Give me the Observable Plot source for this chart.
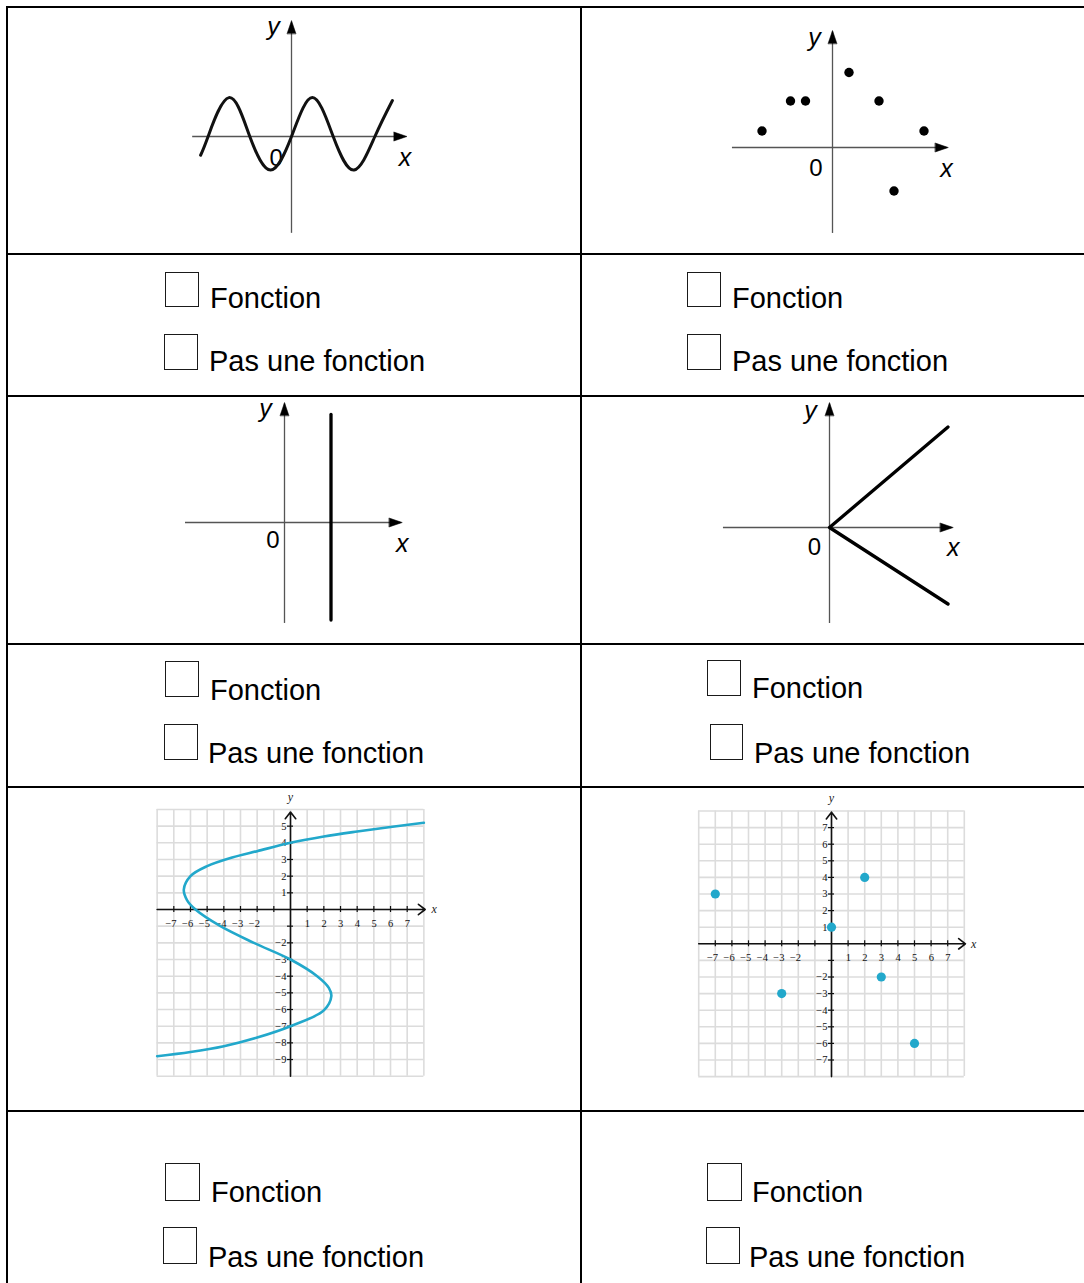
<!DOCTYPE html>
<html>
<head>
<meta charset="utf-8">
<script src="https://cdn.jsdelivr.net/npm/d3@7"></script>
<script src="https://cdn.jsdelivr.net/npm/@observablehq/plot@0.6"></script>
<style>
html, body { margin: 0; padding: 0; background: #fff; }
#page { position: relative; width: 1084px; height: 1283px; overflow: hidden; background: #fff;
        font-family: "Liberation Sans", Arial, sans-serif; }
.hl { position: absolute; height: 2px; background: #000; }
.vl { position: absolute; width: 2px; background: #000; }
.box { position: absolute; box-sizing: border-box; border: 1.6px solid #1a1a1a; }
.lbl { position: absolute; font-size: 29px; line-height: 29px; white-space: nowrap; color: #000; }
#page svg { position: absolute; }
</style>
</head>
<body>
<div id="page"></div>
<script>
// ================= DATA =================
// Graph A : sinusoid (x in half-periods, y in amplitudes)
const sineX = [-2.18, -2, -1.5, -1, -0.5, 0, 0.5, 1, 1.5, 2, 2.42];
const sineY = [-0.52, 0, 1.08, 0, -0.93, 0, 1.08, 0, -0.93, 0, 1.0];

// Graph B : scattered points
const dotsBX = [-4.7, -2.8, -1.8, 1.1, 3.1, 6.1, 4.1];
const dotsBY = [1.1, 3.1, 3.1, 5.0, 3.1, 1.1, -2.9];

// Graph C : vertical segment
const vlineX = [3.1, 3.1];
const vlineY = [-6.5, 7.2];

// Graph D : V shape (two rays from the origin)
const vShapeX = [7.9, 0, 7.9];
const vShapeY = [6.7, 0, -5.1];

// Graph E : sideways S curve on a grid
const sCurveX = [8, 6, 4, 2, 0, -2, -3.5, -5, -6, -6.4, -6.2, -5.7, -4.2, -2.2, 0, 1.6, 2.3, 2.45, 2.0, 0, -2, -4, -6, -8];
const sCurveY = [5.2, 4.95, 4.68, 4.38, 4.0, 3.5, 3.12, 2.6, 2.0, 1.2, 0.55, 0.0, -1.0, -2.0, -3.0, -4.0, -4.7, -5.2, -6.05, -7.0, -7.68, -8.2, -8.55, -8.8];

// Graph F : points on a grid
const dotsFX = [-7, -3, 0, 2, 3, 5];
const dotsFY = [3, -3, 1, 4, -2, -6];

// Tick labels of the grid graphs
const gridXTickLabels = [-7, -6, -5, -4, -3, -2, 1, 2, 3, 4, 5, 6, 7];
const gridEYTickLabels = [5, 4, 3, 2, 1, -2, -3, -4, -5, -6, -7, -8, -9];
const gridFYTickLabels = [7, 6, 5, 4, 3, 2, 1, -2, -3, -4, -5, -6, -7];
const gridETicksX = [-7, -6, -5, -4, -3, -2, -1, 1, 2, 3, 4, 5, 6, 7];
const gridETicksY = [-9, -8, -7, -6, -5, -4, -3, -2, -1, 1, 2, 3, 4, 5];
const gridFTicksX = [-7, -6, -5, -4, -3, -2, -1, 1, 2, 3, 4, 5, 6, 7];
const gridFTicksY = [-7, -6, -5, -4, -3, -2, -1, 1, 2, 3, 4, 5, 6, 7];
const gridELinesX = [-8, -7, -6, -5, -4, -3, -2, -1, 0, 1, 2, 3, 4, 5, 6, 7, 8];
const gridELinesY = [-10, -9, -8, -7, -6, -5, -4, -3, -2, -1, 0, 1, 2, 3, 4, 5, 6];
const gridFLinesX = [-8, -7, -6, -5, -4, -3, -2, -1, 0, 1, 2, 3, 4, 5, 6, 7, 8];
const gridFLinesY = [-8, -7, -6, -5, -4, -3, -2, -1, 0, 1, 2, 3, 4, 5, 6, 7, 8];

// Axis extents [x from, x to (tip), y from, y to (tip)]
const axesA = [-2.37, 2.77, -2.69, 3.22];
const axesB = [-6.67, 7.72, -5.73, 7.8];
const axesC = [-6.6, 7.85, -6.73, 8.0];
const axesD = [-7.07, 8.25, -6.4, 8.33];
const axesE = [-8, 8.08, -10, 5.85];
const axesF = [-8, 8.07, -8, 7.93];

// Axis name labels [text, x, y]
const labelsA = [["y", -0.43, 2.81], ["0", -0.37, -0.81], ["x", 2.72, -0.81]];
const labelsB = [["y", -1.2, 6.8], ["0", -1.1, -1.93], ["x", 7.6, -1.98]];
const labelsC = [["y", -1.27, 7.02], ["0", -0.77, -1.73], ["x", 7.85, -1.98]];
const labelsD = [["y", -1.27, 7.25], ["0", -1.0, -1.82], ["x", 8.25, -1.87]];

const choiceLabels = ["Fonction", "Pas une fonction"];

// ================= LAYOUT =================
const page = document.getElementById("page");
const zip = (xs, ys) => xs.map((x, i) => ({x, y: ys[i]}));
const fmt = d => (d < 0 ? "\u2212" + (-d) : String(d));

// table lines
[[6, 7], [253, 7], [395, 7], [643, 7], [786, 7], [1110, 7]].forEach(([t, l]) => {
  const d = document.createElement("div"); d.className = "hl";
  d.style.top = t + "px"; d.style.left = l - 1 + "px"; d.style.width = (1084 - l + 1) + "px";
  page.appendChild(d);
});
[6, 580].forEach(l => {
  const d = document.createElement("div"); d.className = "vl";
  d.style.left = l + "px"; d.style.top = "6px"; d.style.height = "1290px";
  page.appendChild(d);
});

// checkboxes
const choices = [
  [[165, 272, 34, 35, 210, 308], [164, 334, 34, 36, 209, 371]],
  [[687, 272, 34, 35, 732, 308], [687, 334, 34, 36, 732, 371]],
  [[165, 661, 34, 36, 210, 700], [164, 724, 34, 36, 208, 763]],
  [[707, 660, 34, 36, 752, 698], [710, 724, 33, 36, 754, 763]],
  [[165, 1163, 35, 38, 211, 1202], [163, 1227, 34, 37, 208, 1267]],
  [[707, 1163, 35, 38, 752, 1202], [706, 1227, 34, 37, 749, 1267]]
];
choices.forEach(pair => pair.forEach(([bl, bt, bw, bh, tl, base], k) => {
  const b = document.createElement("div"); b.className = "box";
  Object.assign(b.style, {left: bl + "px", top: bt + "px", width: bw + "px", height: bh + "px"});
  page.appendChild(b);
  const t = document.createElement("div"); t.className = "lbl";
  t.textContent = choiceLabels[k];
  Object.assign(t.style, {left: tl + "px", top: (base - 24.5) + "px"});
  page.appendChild(t);
}));

// frame helper: svg position in page px, origin in page px, unit size in px
function frame(left, top, w, h, ox, oy, ux, uy) {
  return {
    left, top, width: w, height: h,
    x: {domain: [(left - ox) / ux, (left + w - ox) / ux], axis: null},
    y: {domain: [(oy - top - h) / uy, (oy - top) / uy], axis: null}
  };
}
function place(f, marks) {
  const svg = Plot.plot({
    width: f.width, height: f.height, margin: 0,
    x: f.x, y: f.y,
    style: {background: "transparent", overflow: "visible"},
    marks
  });
  svg.style.left = f.left + "px";
  svg.style.top = f.top + "px";
  svg.style.position = "absolute";
  page.appendChild(svg);
}

// filled arrow head
const headShape = {
  draw(context, l) {
    const w = l * 0.34;
    context.moveTo(-w, 0);
    context.lineTo(0, -l);
    context.lineTo(w, 0);
    context.closePath();
  }
};

function schematicAxes(ax, labels) {
  const sans = "Liberation Sans, Arial, sans-serif";
  return [
    Plot.ruleY([0], {x1: ax[0], x2: ax[1] - 0.1, stroke: "#555", strokeWidth: 1.3}),
    Plot.ruleX([0], {y1: ax[2], y2: ax[3] - 0.1, stroke: "#555", strokeWidth: 1.3}),
    Plot.vector([{x: ax[1], y: 0, r: 90}, {x: 0, y: ax[3], r: 0}],
      {x: "x", y: "y", rotate: "r", length: 13, anchor: "end", shape: headShape,
       fill: "#000", stroke: "#000", strokeWidth: 0.5}),
    Plot.text(labels.filter(d => d[0] !== "0"), {x: d => d[1], y: d => d[2], text: d => d[0],
      textAnchor: "middle", lineAnchor: "bottom", fontSize: 25, fontFamily: sans,
      fontStyle: "italic", fill: "#000"}),
    Plot.text(labels.filter(d => d[0] === "0"), {x: d => d[1], y: d => d[2], text: d => d[0],
      textAnchor: "middle", lineAnchor: "bottom", fontSize: 24, fontFamily: sans, fill: "#000"})
  ];
}

// ---- Graph A
place(frame(180, 10, 235, 230, 291, 136, 41.7, 36), [
  ...schematicAxes(axesA, labelsA),
  Plot.line(zip(sineX, sineY), {x: "x", y: "y", curve: "natural", stroke: "#111", strokeWidth: 3})
]);

// ---- Graph B
place(frame(720, 20, 240, 220, 832, 147, 15, 15), [
  ...schematicAxes(axesB, labelsB),
  Plot.dot(zip(dotsBX, dotsBY), {x: "x", y: "y", r: 4.7, fill: "#000", stroke: "none"})
]);

// ---- Graph C
place(frame(170, 390, 240, 237, 284, 522, 15, 15), [
  ...schematicAxes(axesC, labelsC),
  Plot.line(zip(vlineX, vlineY), {x: "x", y: "y", stroke: "#000", strokeWidth: 3.3})
]);

// ---- Graph D
place(frame(710, 390, 255, 237, 829, 527, 15, 15), [
  ...schematicAxes(axesD, labelsD),
  Plot.line(zip(vShapeX, vShapeY), {x: "x", y: "y", stroke: "#000", strokeWidth: 3.3})
]);

// grid graph helper
function gridMarks(linesX, linesY, ticksX, ticksY, xLabels, yLabels, ax, nameX, nameY) {
  const serif = "Liberation Serif, Times New Roman, serif";
  return [
    Plot.ruleX(linesX, {x: d => d, y1: linesY[0], y2: linesY[linesY.length - 1], stroke: "#dcdcdc", strokeWidth: 1.6}),
    Plot.ruleY(linesY, {y: d => d, x1: linesX[0], x2: linesX[linesX.length - 1], stroke: "#dcdcdc", strokeWidth: 1.6}),
    Plot.arrow([{x1: ax[0], y1: 0, x2: ax[1], y2: 0}, {x1: 0, y1: ax[2], x2: 0, y2: ax[3]}],
      {x1: "x1", y1: "y1", x2: "x2", y2: "y2", stroke: "#111", strokeWidth: 1.6, headLength: 8, headAngle: 75}),
    Plot.ruleX(ticksX, {x: d => d, y1: -0.18, y2: 0.18, stroke: "#111", strokeWidth: 1.2}),
    Plot.ruleY(ticksY, {y: d => d, x1: -0.18, x2: 0.18, stroke: "#111", strokeWidth: 1.2}),
    Plot.text(xLabels, {x: d => d, y: 0, text: fmt, textAnchor: "end", dx: 2.8, dy: 14,
      lineAnchor: "middle", fontSize: 10.5, fontFamily: serif, fill: "#111"}),
    Plot.text(yLabels, {x: 0, y: d => d, text: fmt, textAnchor: "end", dx: -4,
      lineAnchor: "middle", fontSize: 10.5, fontFamily: serif, fill: "#111"}),
    Plot.text([nameX], {x: d => d[0], y: d => d[1], text: ["x"], fontStyle: "italic",
      lineAnchor: "middle", textAnchor: "middle", fontSize: 12, fontFamily: serif, fill: "#222"}),
    Plot.text([nameY], {x: d => d[0], y: d => d[1], text: ["y"], fontStyle: "italic",
      lineAnchor: "middle", textAnchor: "middle", fontSize: 12, fontFamily: serif, fill: "#222"})
  ];
}

// ---- Graph E
place(frame(145, 786, 305, 297, 290, 909, 16.67, 16.67), [
  ...gridMarks(gridELinesX, gridELinesY, gridETicksX, gridETicksY, gridXTickLabels, gridEYTickLabels,
    axesE, [8.62, 0], [0, 6.74]),
  Plot.line(zip(sCurveX, sCurveY), {x: "x", y: "y", curve: "catmull-rom", stroke: "#22a8cb", strokeWidth: 2.6})
]);

// ---- Graph F
place(frame(690, 786, 300, 294, 831, 943.3, 16.6, 16.6), [
  ...gridMarks(gridFLinesX, gridFLinesY, gridFTicksX, gridFTicksY, gridXTickLabels, gridFYTickLabels,
    axesF, [8.57, 0], [0, 8.8]),
  Plot.dot(zip(dotsFX, dotsFY), {x: "x", y: "y", r: 4.6, fill: "#22a8cb", stroke: "none"})
]);
</script>
</body>
</html>
